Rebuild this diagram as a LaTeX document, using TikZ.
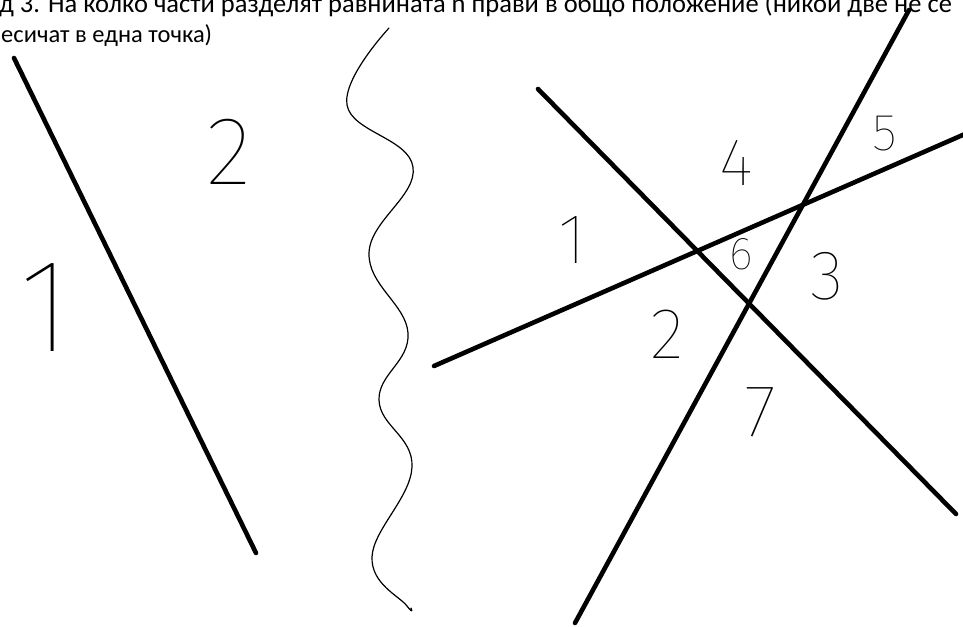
\documentclass[tikz,border=0pt]{standalone}
\usepackage{fontspec}
\setmainfont{Carlito}
\newfontfamily\handfont{Fira Sans Thin}
\usetikzlibrary{positioning}
\tikzset{
    ln/.style={line width=4.6pt, line cap=round},
    wave/.style={line width=1.2pt, line cap=round, line join=round},
    hnum/.style={font=\handfont\fontsize{#1}{#1}\selectfont, inner sep=0pt},
    hdr/.style={font=\fontsize{#1}{#1}\selectfont, inner sep=0pt, anchor=base west},
}

\begin{document}
\begin{tikzpicture}[x=1pt,y=-1pt]
    \useasboundingbox (0,0) rectangle (963,626);
    \clip (0,0) rectangle (963,626);

    % task text, cut off at the page edges
    \node[hdr=26.5] (hdra) at (-1,12.5) {д 3. На колко части разделят равнината n прави в общо положение (никои две не се};
    \node[hdr=24.5] (hdrb) at (1,43) {есичат в една точка)};

    % one line: two parts
    \coordinate (la) at (14,58);
    \coordinate (lb) at (256,553);
    \draw[ln] (la) -- (lb);
    \node[hnum=133] (p1) at (46,308) {1};
    \node[hnum=97]  (p2) at (229,152) {2};

    % curve
    \draw[wave] plot[smooth, tension=0.7] coordinates {
        (389,28) (347,105) (413,167) (369,253) (408,333)
        (379,400) (412,467) (372,557) (407,606) (411,608)};

    % three lines in general position
    \coordinate (aa) at (538,89);
    \coordinate (ab) at (956,514);
    \coordinate (ba) at (909,10);
    \coordinate (bb) at (575,623);
    \coordinate (ca) at (434,366);
    \coordinate (cb) at (965,134);
    \draw[ln] (aa) -- (ab);
    \draw[ln] (ba) -- (bb);
    \draw[ln] (ca) -- (cb);

    \node[hnum=71] (r1) at (572,240) {1};
    \node[hnum=72] (r2) at (667,334) {2};
    \node[hnum=70] (r3) at (827,276) {3};
    \node[hnum=67] (r4) at (736,163) {4};
    \node[hnum=52] (r5) at (885,134) {5};
    \node[hnum=46] (r6) at (741,254) {6};
    \node[hnum=74] (r7) at (760,412) {7};
\end{tikzpicture}
\end{document}
